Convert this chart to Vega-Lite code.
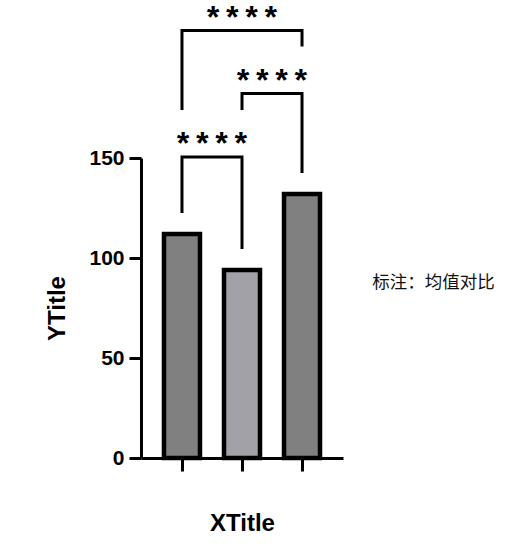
{
  "$schema": "https://vega.github.io/schema/vega-lite/v6.json",
  "width": 202,
  "height": 300,
  "autosize": "none",
  "padding": {"left": 141, "top": 158, "right": 167, "bottom": 93},
  "background": "white",
  "config": {
    "view": {"stroke": null},
    "font": "Liberation Sans"
  },
  "datasets": {
    "bars": [
      {"group": 1, "value": 112, "shade": "dark"},
      {"group": 2, "value": 94, "shade": "light"},
      {"group": 3, "value": 132, "shade": "dark"}
    ],
    "brackets": [
      {"pair": "b1", "step": 1, "x": 1, "y": 122.5},
      {"pair": "b1", "step": 2, "x": 1, "y": 150.5},
      {"pair": "b1", "step": 3, "x": 2, "y": 150.5},
      {"pair": "b1", "step": 4, "x": 2, "y": 104.5},
      {"pair": "b2", "step": 1, "x": 2, "y": 174},
      {"pair": "b2", "step": 2, "x": 2, "y": 182.2},
      {"pair": "b2", "step": 3, "x": 3, "y": 182.2},
      {"pair": "b2", "step": 4, "x": 3, "y": 142.5},
      {"pair": "b3", "step": 1, "x": 1, "y": 174},
      {"pair": "b3", "step": 2, "x": 1, "y": 213.7},
      {"pair": "b3", "step": 3, "x": 3, "y": 213.7},
      {"pair": "b3", "step": 4, "x": 3, "y": 205.8}
    ],
    "stars": [
      {"x": 1.5, "y": 156.5, "label": "****"},
      {"x": 2.5, "y": 188, "label": "****"},
      {"x": 2, "y": 219.5, "label": "****"}
    ],
    "note": [
      {"x": 4.17, "y": 87.5, "label": "标注：均值对比"}
    ]
  },
  "layer": [
    {
      "data": {"name": "bars"},
      "mark": {"type": "bar", "size": 36, "stroke": "black", "strokeWidth": 4.5},
      "encoding": {
        "x": {
          "field": "group",
          "type": "quantitative",
          "scale": {"domain": [0.317, 3.683], "nice": false, "zero": false, "padding": 0},
          "axis": {
            "values": [1, 2, 3],
            "labels": false,
            "grid": false,
            "domainColor": "black",
            "domainWidth": 3,
            "tickColor": "black",
            "tickWidth": 3,
            "tickSize": 13,
            "title": "XTitle",
            "titleFontSize": 24,
            "titleFontWeight": "bold",
            "titleColor": "black",
            "titlePadding": 39
          }
        },
        "y": {
          "field": "value",
          "type": "quantitative",
          "scale": {"domain": [0, 150], "nice": false},
          "axis": {
            "values": [0, 50, 100, 150],
            "grid": false,
            "domainColor": "black",
            "domainWidth": 3,
            "tickColor": "black",
            "tickWidth": 3,
            "tickSize": 12,
            "labelFontSize": 21,
            "labelFontWeight": "bold",
            "labelColor": "black",
            "labelPadding": 5,
            "title": "YTitle",
            "titleFontSize": 24,
            "titleFontWeight": "bold",
            "titleColor": "black",
            "titlePadding": 19
          }
        },
        "color": {
          "field": "shade",
          "type": "nominal",
          "scale": {"domain": ["dark", "light"], "range": ["#808080", "#a2a1a7"]},
          "legend": null
        }
      }
    },
    {
      "data": {"name": "brackets"},
      "mark": {"type": "line", "color": "black", "strokeWidth": 3, "strokeJoin": "miter", "strokeCap": "butt"},
      "encoding": {
        "x": {"field": "x", "type": "quantitative"},
        "y": {"field": "y", "type": "quantitative"},
        "detail": {"field": "pair"},
        "order": {"field": "step"}
      }
    },
    {
      "data": {"name": "stars"},
      "mark": {"type": "text", "font": "Liberation Mono", "fontWeight": "bold", "fontSize": 32, "baseline": "middle", "align": "center", "color": "black"},
      "encoding": {
        "x": {"field": "x", "type": "quantitative"},
        "y": {"field": "y", "type": "quantitative"},
        "text": {"field": "label"}
      }
    },
    {
      "data": {"name": "note"},
      "mark": {"type": "text", "font": "Noto Sans CJK SC", "fontSize": 17.5, "baseline": "middle", "align": "left", "color": "#111111"},
      "encoding": {
        "x": {"field": "x", "type": "quantitative"},
        "y": {"field": "y", "type": "quantitative"},
        "text": {"field": "label"}
      }
    }
  ]
}
